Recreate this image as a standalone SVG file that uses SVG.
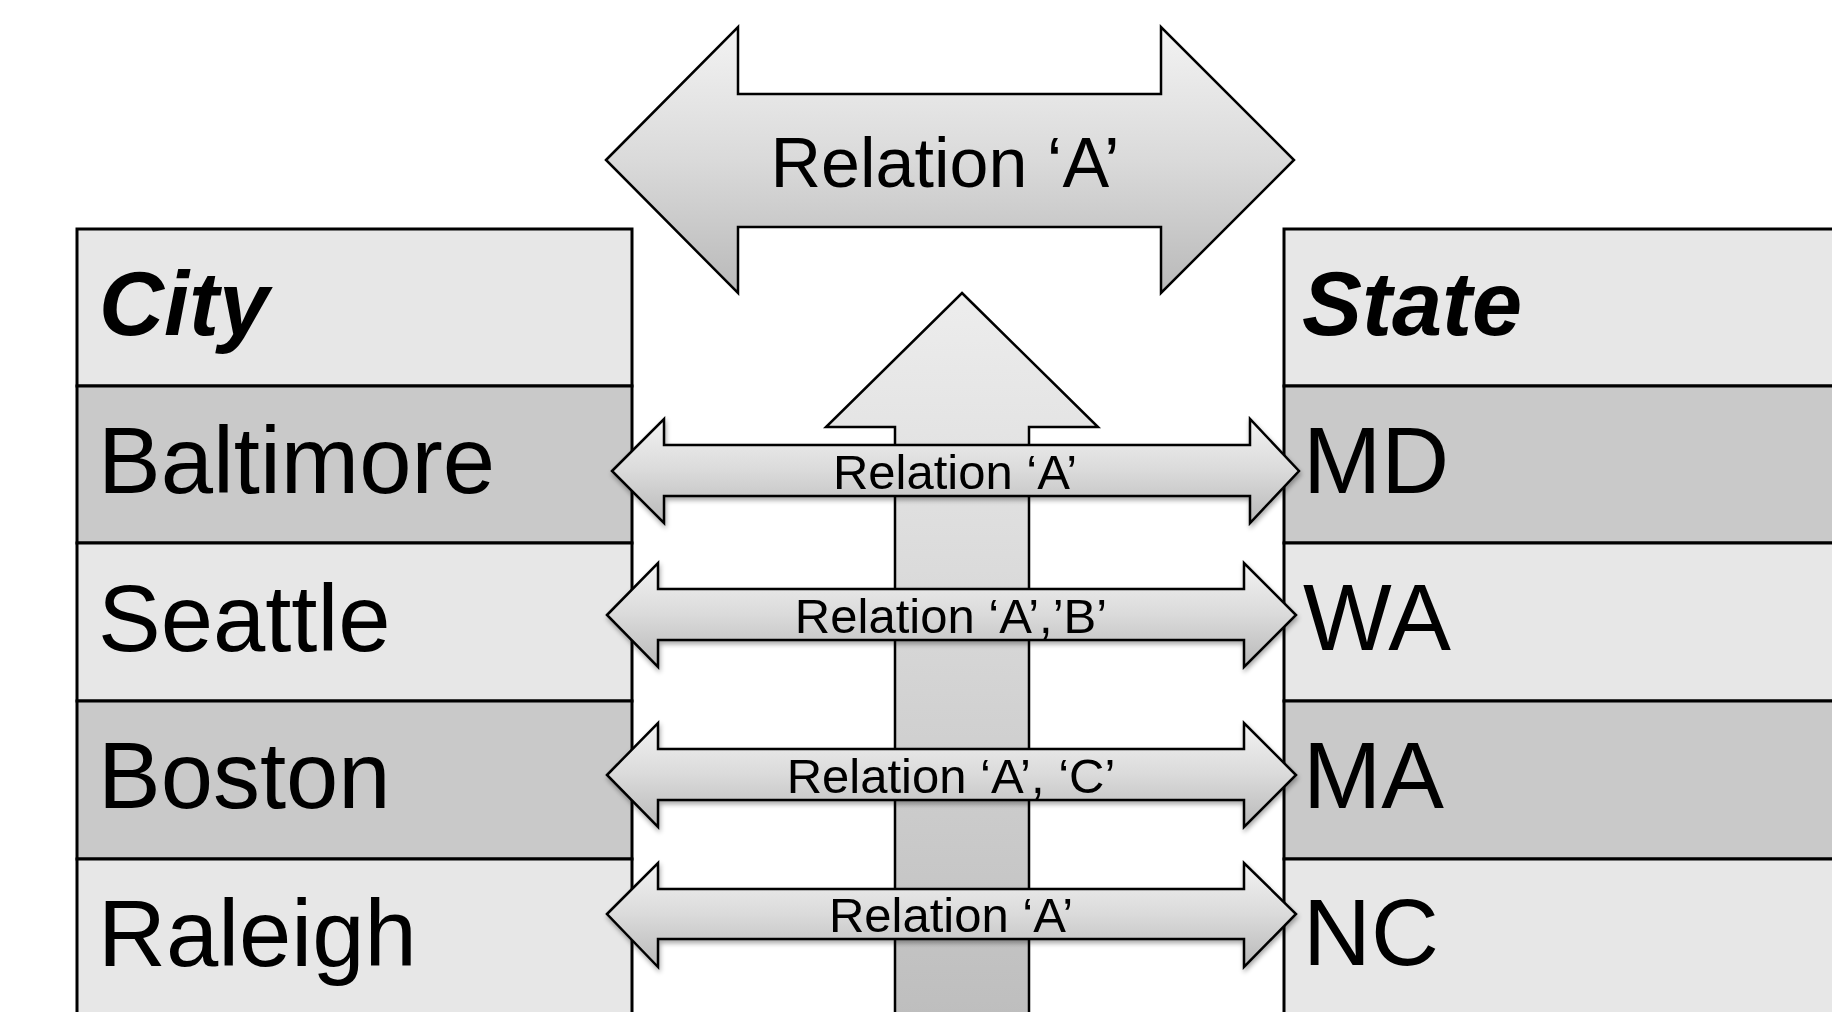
<svg xmlns="http://www.w3.org/2000/svg" width="1832" height="1012" viewBox="0 0 1832 1012">
<style>
.light{fill:#e7e7e7;stroke:#000;stroke-width:3}
.dark{fill:#c9c9c9;stroke:#000;stroke-width:3}
.hdr{font-family:"Liberation Sans",Arial,sans-serif;font-weight:bold;font-style:italic;font-size:90px;fill:#000}
.cell{font-family:"Liberation Sans",Arial,sans-serif;font-size:94px;fill:#000}
.arr{stroke:#000;stroke-width:2.5;stroke-linejoin:miter}
.lbl{font-family:"Liberation Sans",Arial,sans-serif;font-size:49px;fill:#000;text-anchor:middle}
.big{font-family:"Liberation Sans",Arial,sans-serif;font-size:70px;fill:#000;text-anchor:middle}
</style>
<defs>
<linearGradient id="g" x1="0" y1="0" x2="0" y2="1">
<stop offset="0" stop-color="#f3f3f3"/>
<stop offset="0.5" stop-color="#dadada"/>
<stop offset="1" stop-color="#b9b9b9"/>
</linearGradient>
<linearGradient id="gup" x1="0" y1="0" x2="0" y2="1">
<stop offset="0" stop-color="#ededed"/>
<stop offset="1" stop-color="#bdbdbd"/>
</linearGradient>
<filter id="sh" x="-5%" y="-20%" width="110%" height="150%">
<feGaussianBlur in="SourceAlpha" stdDeviation="2.5"/>
<feOffset dx="1" dy="3" result="b"/>
<feComponentTransfer><feFuncA type="linear" slope="0.35"/></feComponentTransfer>
<feMerge><feMergeNode/><feMergeNode in="SourceGraphic"/></feMerge>
</filter>
</defs>
<rect width="1832" height="1012" fill="#fff"/>

<g id="city-table">
<rect class="light" x="77" y="229" width="555" height="157"/>
<rect class="dark" x="77" y="386" width="555" height="157"/>
<rect class="light" x="77" y="543" width="555" height="158"/>
<rect class="dark" x="77" y="701" width="555" height="158"/>
<rect class="light" x="77" y="859" width="555" height="170"/>
<text class="hdr" x="99" y="335">City</text>
<text class="cell" x="98" y="493">Baltimore</text>
<text class="cell" x="98" y="651">Seattle</text>
<text class="cell" x="98" y="808">Boston</text>
<text class="cell" x="98" y="966">Raleigh</text>
</g>

<g id="state-table">
<rect class="light" x="1284" y="229" width="570" height="157"/>
<rect class="dark" x="1284" y="386" width="570" height="157"/>
<rect class="light" x="1284" y="543" width="570" height="158"/>
<rect class="dark" x="1284" y="701" width="570" height="158"/>
<rect class="light" x="1284" y="859" width="570" height="170"/>
<text class="hdr" x="1302" y="335">State</text>
<text class="cell" x="1303" y="493">MD</text>
<text class="cell" x="1303" y="650">WA</text>
<text class="cell" x="1303" y="808">MA</text>
<text class="cell" x="1303" y="965">NC</text>
</g>

<g id="connectors">
<g id="relation-main">
<polygon class="arr" fill="url(#g)" points="606,160 738,27 738,94 1161,94 1161,27 1294,160 1161,293 1161,227 738,227 738,293"/>
<text class="big" x="945" y="187">Relation ‘A’</text>
</g>
<g id="up-arrow">
<polygon class="arr" fill="url(#gup)" points="962,293 1098,427 1029,427 1029,1030 895,1030 895,427 826,427"/>
</g>
<g id="rel-baltimore" filter="url(#sh)">
<polygon class="arr" fill="url(#g)" points="612,471 664,419 664,445 1250,445 1250,419 1299,471 1250,523 1250,496 664,496 664,523"/>
<text class="lbl" x="955" y="489">Relation ‘A’</text>
</g>
<g id="rel-seattle" filter="url(#sh)">
<polygon class="arr" fill="url(#g)" points="607,615 658,563 658,589 1244,589 1244,563 1296,615 1244,667 1244,640 658,640 658,667"/>
<text class="lbl" x="951" y="633">Relation ‘A’,’B’</text>
</g>
<g id="rel-boston" filter="url(#sh)">
<polygon class="arr" fill="url(#g)" points="607,775 658,723 658,749 1244,749 1244,723 1296,775 1244,827 1244,800 658,800 658,827"/>
<text class="lbl" x="951" y="793">Relation ‘A’, ‘C’</text>
</g>
<g id="rel-raleigh" filter="url(#sh)">
<polygon class="arr" fill="url(#g)" points="607,914 658,863 658,889 1244,889 1244,863 1296,914 1244,967 1244,939 658,939 658,967"/>
<text class="lbl" x="951" y="932">Relation ‘A’</text>
</g>
</g>
</svg>
